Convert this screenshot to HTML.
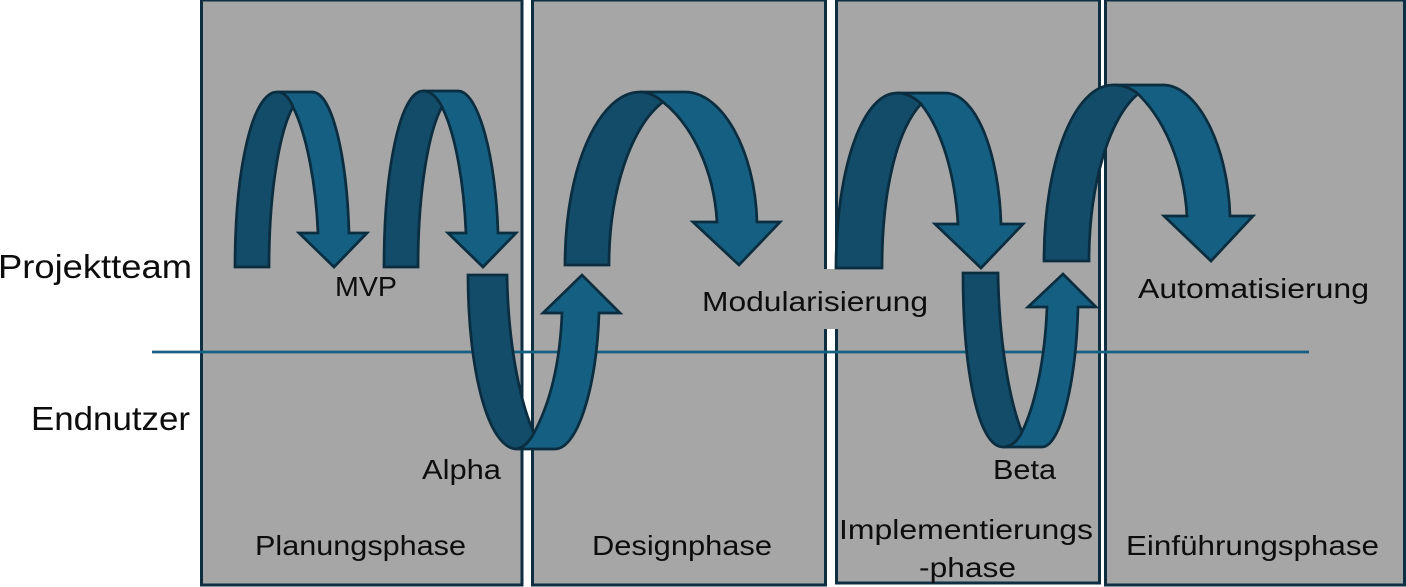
<!DOCTYPE html>
<html lang="de">
<head>
<meta charset="utf-8">
<title>Projektphasen</title>
<style>
html,body{margin:0;padding:0;background:#fff;width:1406px;height:587px;overflow:hidden}
svg{display:block}
text{font-family:"Liberation Sans",sans-serif;fill:#0d0d0d;font-size:28px}
.p{fill:#a6a6a6;stroke:#0e2f42;stroke-width:3}
.d{fill:#134c69;stroke:#0b2d40;stroke-width:2.75;stroke-linejoin:miter}
.l{fill:#156082;stroke:#0b2d40;stroke-width:2.75;stroke-linejoin:miter}
</style>
</head>
<body>
<svg width="1406" height="587" viewBox="0 0 1406 587" xmlns="http://www.w3.org/2000/svg">
<rect class="p" x="201.5" y="0" width="320.5" height="585"/>
<rect class="p" x="532.5" y="0" width="293" height="585"/>
<rect class="p" x="836.5" y="0" width="263" height="583"/>
<rect class="p" x="1105.5" y="0" width="299" height="585"/>
<rect x="700" y="269" width="230" height="60" fill="#a6a6a6"/>
<line x1="152" y1="352" x2="1309" y2="352" stroke="#156082" stroke-width="2.75"/>

<!-- Arrow 1 -->
<path class="l" d="M277 92 L312 92 C333 92 347 160 349 233 L367 233 L334 267 L299 233 L318 233 C316 185 307 135 293 107 C289 98 284 93 277 92Z"/>
<path class="d" d="M235 267 C235 170 252 92 277 92 C284 92 289 97 293 107 C280 130 269 190 269 267Z"/>

<!-- Arrow 2 -->
<path class="l" d="M423 91 L458 91 C479 91 496 160 498 233 L516 233 L483 267 L448 233 L466 233 C464 185 456 135 442 107 C437 97 431 92 423 91Z"/>
<path class="d" d="M384 267 C384 170 400 91 423 91 C431 91 437 97 442 107 C429 130 418 190 418 267Z"/>

<!-- Arrow 3 -->
<path class="d" d="M468 275 L507 275 C508 340 519 400 534 433 C530 441 524 447 517 449 C488 449 468 370 468 275Z"/>
<path class="l" d="M517 449 L555 449 C578 449 597 385 599 313 L620 313 L582 275 L543 313 L562 313 C560 365 549 405 534 433 C530 441 524 447 517 449Z"/>

<!-- Arrow 4 -->
<path class="l" d="M640 92 L685 92 C722 92 755 150 757 222 L780 222 L739 265 L693 222 L717 222 C714 170 692 125 663 102 C656 96 648 92 640 92Z"/>
<path class="d" d="M565 265 C565 165 600 92 640 92 C648 92 656 96 663 102 C632 125 609 190 609 265Z"/>

<!-- Arrow 5 -->
<path class="l" d="M897 93 L945 93 C977 93 999 155 1001 224 L1023 224 L981 268 L935 224 L958 224 C955 175 942 130 921 104 C914 97 906 93 897 93Z"/>
<path class="d" d="M836 268 C836 170 862 93 897 93 C906 93 914 97 921 104 C897 130 882 190 882 268Z"/>

<!-- Arrow 6 -->
<path class="d" d="M963 273 L998 273 C999 340 1009 400 1022 432 C1018 441 1011 447 1003 447 C978 447 963 370 963 273Z"/>
<path class="l" d="M1003 447 L1042 447 C1060 447 1076 385 1078 307 L1096 307 L1063 274 L1028 307 L1047 307 C1045 360 1035 405 1022 432 C1018 441 1011 447 1003 447Z"/>

<!-- Arrow 7 -->
<path class="l" d="M1113 85 L1163 85 C1197 85 1228 145 1230 216 L1253 216 L1211 261 L1164 216 L1187 216 C1184 165 1165 120 1138 94 C1131 88 1122 85 1113 85Z"/>
<path class="d" d="M1044 261 C1044 160 1075 85 1113 85 C1122 85 1131 88 1138 94 C1109 118 1089 185 1089 261Z"/>

<text x="-2" y="278" style="font-size:33px" textLength="194" lengthAdjust="spacingAndGlyphs">Projektteam</text>
<text x="31" y="430" style="font-size:33px" textLength="159" lengthAdjust="spacingAndGlyphs">Endnutzer</text>
<text x="335" y="296" textLength="62" lengthAdjust="spacingAndGlyphs">MVP</text>
<text x="422" y="479" textLength="79" lengthAdjust="spacingAndGlyphs">Alpha</text>
<text x="993" y="479" textLength="63" lengthAdjust="spacingAndGlyphs">Beta</text>
<text x="702" y="311" textLength="226" lengthAdjust="spacingAndGlyphs">Modularisierung</text>
<text x="1138" y="298" textLength="231" lengthAdjust="spacingAndGlyphs">Automatisierung</text>
<text x="255" y="555" textLength="211" lengthAdjust="spacingAndGlyphs">Planungsphase</text>
<text x="592" y="555" textLength="180" lengthAdjust="spacingAndGlyphs">Designphase</text>
<text x="839" y="539" textLength="254" lengthAdjust="spacingAndGlyphs">Implementierungs</text>
<text x="919" y="577" textLength="97" lengthAdjust="spacingAndGlyphs">-phase</text>
<text x="1126" y="555" textLength="253" lengthAdjust="spacingAndGlyphs">Einführungsphase</text>
</svg>
</body>
</html>
